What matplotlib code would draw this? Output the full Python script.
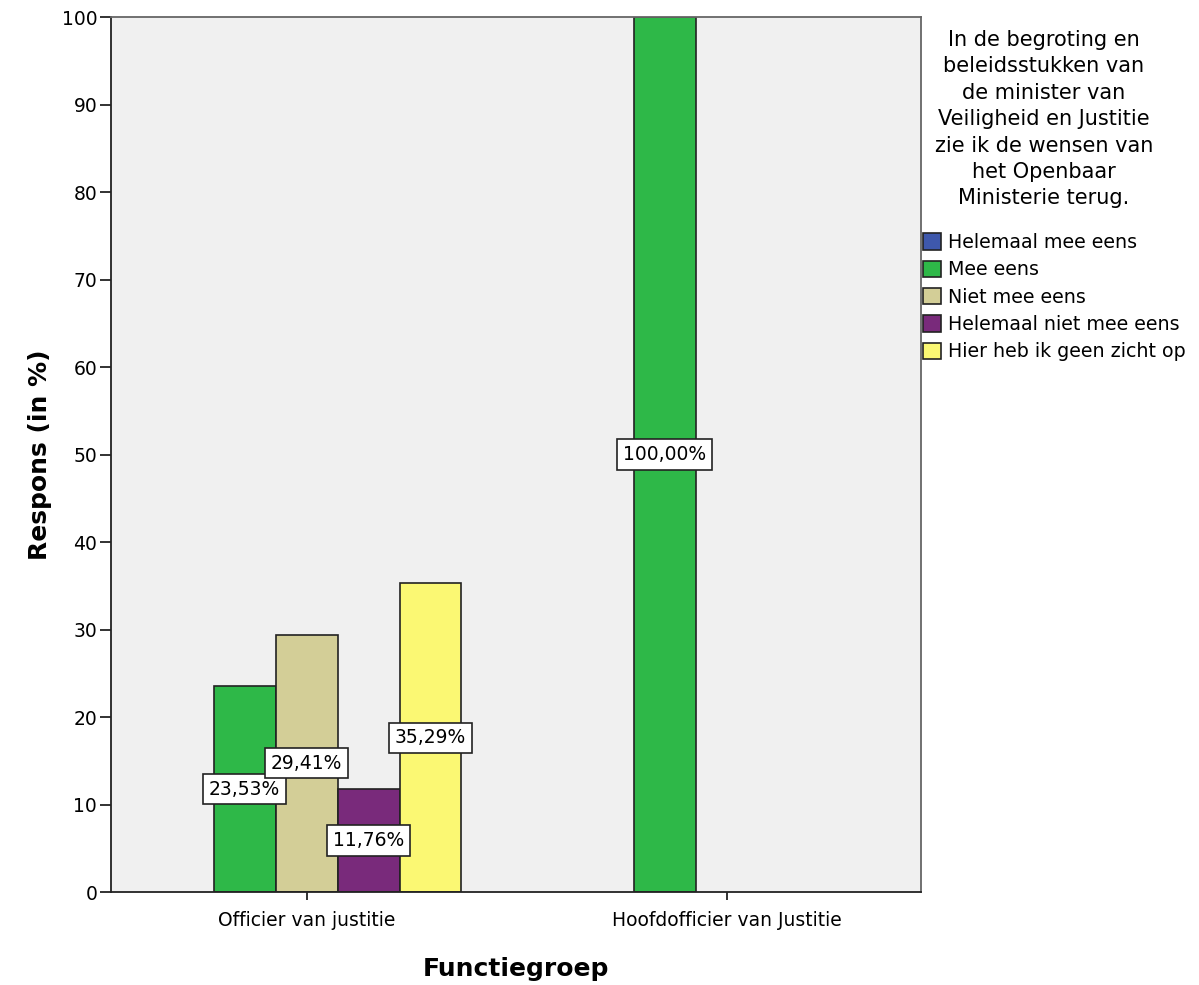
import matplotlib.pyplot as plt
import numpy as np

plt.rcParams['font.family'] = ['DejaVu Sans']

# data
groups = ['Officier van justitie', 'Hoofdofficier van Justitie']
answers = ['Helemaal mee eens', 'Mee eens', 'Niet mee eens',
           'Helemaal niet mee eens', 'Hier heb ik geen zicht op']
colors = ['#3E58AC', '#2EB848', '#D3CE97', '#792A7B', '#FBF873']
values = [[0, 23.53, 29.41, 11.76, 35.29],
          [0, 100.0, 0, 0, 0]]
legend_title = ('In de begroting en\nbeleidsstukken van\nde minister van\n'
                'Veiligheid en Justitie\nzie ik de wensen van\nhet Openbaar\n'
                'Ministerie terug.')

fig = plt.figure(figsize=(11.99, 9.85), dpi=100)
ax = fig.add_axes([0.0926, 0.0944, 0.6755, 0.8883])
ax.set_facecolor('#F0F0F0')

bar_w = 0.1476
x = np.arange(len(groups))
handles = []
for j, ans in enumerate(answers):
    offs = (j - 2) * bar_w
    h = plt.Rectangle((0, 0), 1, 1, facecolor=colors[j], edgecolor='#222222', lw=1.2)
    handles.append(h)
    for i in range(len(groups)):
        v = values[i][j]
        if v <= 0:
            continue
        ax.bar(x[i] + offs, v, width=bar_w, color=colors[j], edgecolor='#222222', lw=1.2, zorder=2)
        lab = ('%.2f' % v).replace('.', ',') + '%'
        ax.text(x[i] + offs, v / 2, lab, ha='center', va='center', fontsize=13.5, zorder=3,
                bbox=dict(boxstyle='square,pad=0.3', fc='white', ec='#222222', lw=1.2))

ax.set_xlim(-0.4655, 1.463)
ax.set_ylim(0, 100)
ax.set_yticks(np.arange(0, 101, 10))
ax.set_xticks(x)
ax.set_xticklabels(groups)
ax.tick_params(axis='both', labelsize=13.5, direction='out', color='#222222')
ax.tick_params(axis='y', length=8, width=1.3, pad=2)
ax.tick_params(axis='x', length=6, width=1.3, pad=8)
for s in ['top', 'right']:
    ax.spines[s].set_color('#666666')
    ax.spines[s].set_linewidth(1.3)
for s in ['left', 'bottom']:
    ax.spines[s].set_color('#222222')
    ax.spines[s].set_linewidth(1.3)

ax.set_ylabel('Respons (in %)', fontsize=18, fontweight='bold', labelpad=7)
ax.set_xlabel('Functiegroep', fontsize=18, fontweight='bold', labelpad=19)

# legend title as separate centred text
fig.text(1044 / 1199, 1 - 30 / 985, legend_title, ha='center', va='top',
         multialignment='center', fontsize=15, linespacing=1.4)

leg = ax.legend(handles, answers, loc='upper left',
                bbox_to_anchor=(923 / 1199, 1 - 233 / 985),
                bbox_transform=fig.transFigure, frameon=False, fontsize=13.7,
                handlelength=0.95, handleheight=0.95,
                handletextpad=0.35, labelspacing=0.44, borderaxespad=0.0,
                borderpad=0.0)

plt.savefig('out.png', dpi=100)
